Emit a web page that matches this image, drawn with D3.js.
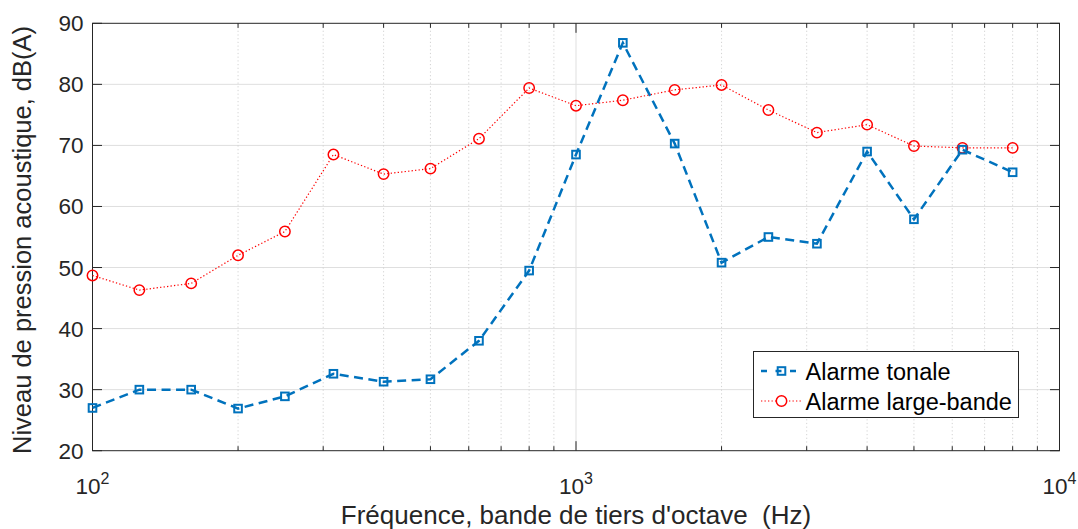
<!DOCTYPE html>
<html>
<head>
<meta charset="utf-8">
<script src="https://cdn.jsdelivr.net/npm/d3@7"></script>
<style>
  html, body { margin: 0; padding: 0; background: #fff; }
  svg { display: block; font-family: "Liberation Sans", Arial, Helvetica, sans-serif; }
</style>
</head>
<body>
<svg id="chart" width="1078" height="529"></svg>
<script>
// Bandes de tiers d'octave (Hz)
const frequencies = [100, 125, 160, 200, 250, 315, 400, 500, 630, 800,
                     1000, 1250, 1600, 2000, 2500, 3150, 4000, 5000, 6300, 8000];
// Niveaux mesurés, dB(A)
const tonale = [27.0, 30.0, 30.0, 26.9, 28.9, 32.6, 31.3, 31.7, 38.0, 49.5,
                68.5, 86.8, 70.3, 50.8, 55.0, 53.9, 69.0, 57.9, 69.3, 65.6];
const largeBande = [48.7, 46.3, 47.4, 52.0, 55.9, 68.5, 65.3, 66.2, 71.1, 79.4,
                    76.5, 77.4, 79.1, 79.9, 75.8, 72.1, 73.4, 69.9, 69.6, 69.6];
const seriesNames = ["Alarme tonale", "Alarme large-bande"];
const yTicks = [20, 30, 40, 50, 60, 70, 80, 90];
const xMajor = [100, 1000, 10000];
const xLabelExp = ["2", "3", "4"];

const svg = d3.select("#chart");
const pL = 92.5, pR = 1059.5, pT = 23.3, pB = 450.7;
const axisColor = "#262626";
const blue = "#0072BD", red = "#FF0000";

const x = d3.scaleLog().domain([100, 10000]).range([pL, pR]);
const y = d3.scaleLinear().domain([20, 90]).range([pB, pT]);

const xMinor = [];
for (let d = 100; d < 10000; d *= 10) for (let k = 2; k <= 9; k++) xMinor.push(d * k);

// Grille
const grid = svg.append("g");
grid.selectAll(".ygrid").data(yTicks.slice(1, -1)).join("line")
  .attr("x1", pL).attr("x2", pR)
  .attr("y1", d => y(d)).attr("y2", d => y(d))
  .attr("stroke", "#dfdfdf").attr("stroke-width", 1);
grid.selectAll(".xminor").data(xMinor).join("line")
  .attr("x1", d => x(d)).attr("x2", d => x(d))
  .attr("y1", pT).attr("y2", pB)
  .attr("stroke", "#c8c8c8").attr("stroke-width", 0.8)
  .attr("stroke-dasharray", "1.2,2.5");
grid.selectAll(".xmajor").data([1000]).join("line")
  .attr("x1", d => x(d)).attr("x2", d => x(d))
  .attr("y1", pT).attr("y2", pB)
  .attr("stroke", "#dfdfdf").attr("stroke-width", 1);

// Cadre et graduations
const frame = svg.append("g");
frame.append("rect").attr("x", pL).attr("y", pT)
  .attr("width", pR - pL).attr("height", pB - pT)
  .attr("fill", "none").attr("stroke", axisColor).attr("stroke-width", 1);

const majLen = 9.5, minLen = 4.5;
yTicks.forEach(v => {
  frame.append("line").attr("x1", pL).attr("x2", pL + majLen)
    .attr("y1", y(v)).attr("y2", y(v)).attr("stroke", axisColor);
  frame.append("line").attr("x1", pR).attr("x2", pR - majLen)
    .attr("y1", y(v)).attr("y2", y(v)).attr("stroke", axisColor);
});
xMajor.forEach(v => {
  frame.append("line").attr("x1", x(v)).attr("x2", x(v))
    .attr("y1", pB).attr("y2", pB - majLen).attr("stroke", axisColor);
  frame.append("line").attr("x1", x(v)).attr("x2", x(v))
    .attr("y1", pT).attr("y2", pT + majLen).attr("stroke", axisColor);
});
xMinor.forEach(v => {
  frame.append("line").attr("x1", x(v)).attr("x2", x(v))
    .attr("y1", pB).attr("y2", pB - minLen).attr("stroke", axisColor);
  frame.append("line").attr("x1", x(v)).attr("x2", x(v))
    .attr("y1", pT).attr("y2", pT + minLen).attr("stroke", axisColor);
});

// Étiquettes des graduations
svg.append("g").selectAll("text").data(yTicks).join("text")
  .attr("x", pL - 9).attr("y", d => y(d) + 8)
  .attr("text-anchor", "end").attr("font-size", 22.5).attr("fill", axisColor)
  .text(d => d);

const xl = svg.append("g").selectAll("text").data(xMajor).join("text")
  .attr("x", d => x(d)).attr("y", 494)
  .attr("text-anchor", "middle").attr("font-size", 22.5).attr("fill", axisColor);
xl.append("tspan").text("10");
xl.append("tspan").attr("dy", -10).attr("font-size", 16).text((d, i) => xLabelExp[i]);

// Titres des axes
svg.append("text")
  .attr("transform", `translate(31,${(pT + pB) / 2 + 3}) rotate(-90)`)
  .attr("text-anchor", "middle").attr("font-size", 25.5).attr("fill", axisColor)
  .text("Niveau de pression acoustique, dB(A)");
svg.append("text")
  .attr("x", (pL + pR) / 2).attr("y", 524)
  .attr("text-anchor", "middle").attr("font-size", 26).attr("fill", axisColor)
  .attr("xml:space", "preserve")
  .text("Fréquence, bande de tiers d'octave  (Hz)");

// Courbes
const line = vals => d3.line().x((d, i) => x(frequencies[i])).y(d => y(d))(vals);

svg.append("path").attr("d", line(largeBande))
  .attr("fill", "none").attr("stroke", red).attr("stroke-width", 1.2)
  .attr("stroke-dasharray", "1.3,2.2");
svg.append("g").selectAll("circle").data(largeBande).join("circle")
  .attr("cx", (d, i) => x(frequencies[i])).attr("cy", d => y(d)).attr("r", 5.2)
  .attr("fill", "none").attr("stroke", red).attr("stroke-width", 1.5);

svg.append("path").attr("d", line(tonale))
  .attr("fill", "none").attr("stroke", blue).attr("stroke-width", 2.5)
  .attr("stroke-dasharray", "9,5.5");
svg.append("g").selectAll("rect").data(tonale).join("rect")
  .attr("x", (d, i) => x(frequencies[i]) - 3.8).attr("y", d => y(d) - 3.8)
  .attr("width", 7.6).attr("height", 7.6)
  .attr("fill", "none").attr("stroke", blue).attr("stroke-width", 2);

// Légende
const lg = svg.append("g");
lg.append("rect").attr("x", 753.5).attr("y", 351.5).attr("width", 265).attr("height", 66)
  .attr("fill", "#fff").attr("stroke", axisColor).attr("stroke-width", 1);
const r1 = 371, r2 = 401, lx1 = 761, lx2 = 802, mx = 781.5;
lg.append("line").attr("x1", lx1).attr("x2", lx2).attr("y1", r1).attr("y2", r1)
  .attr("stroke", blue).attr("stroke-width", 2.5).attr("stroke-dasharray", "6,8.5");
lg.append("rect").attr("x", mx - 3.8).attr("y", r1 - 3.8).attr("width", 7.6).attr("height", 7.6)
  .attr("fill", "none").attr("stroke", blue).attr("stroke-width", 2);
lg.append("line").attr("x1", lx1).attr("x2", lx2).attr("y1", r2).attr("y2", r2)
  .attr("stroke", red).attr("stroke-width", 1.2).attr("stroke-dasharray", "1.3,2.2");
lg.append("circle").attr("cx", mx).attr("cy", r2).attr("r", 5.2)
  .attr("fill", "#fff").attr("stroke", red).attr("stroke-width", 1.5);
lg.selectAll("text").data(seriesNames).join("text")
  .attr("x", 805.5).attr("y", (d, i) => (i ? r2 : r1) + 8.5)
  .attr("font-size", 23.5).attr("fill", "#000")
  .text(d => d);
</script>
</body>
</html>
